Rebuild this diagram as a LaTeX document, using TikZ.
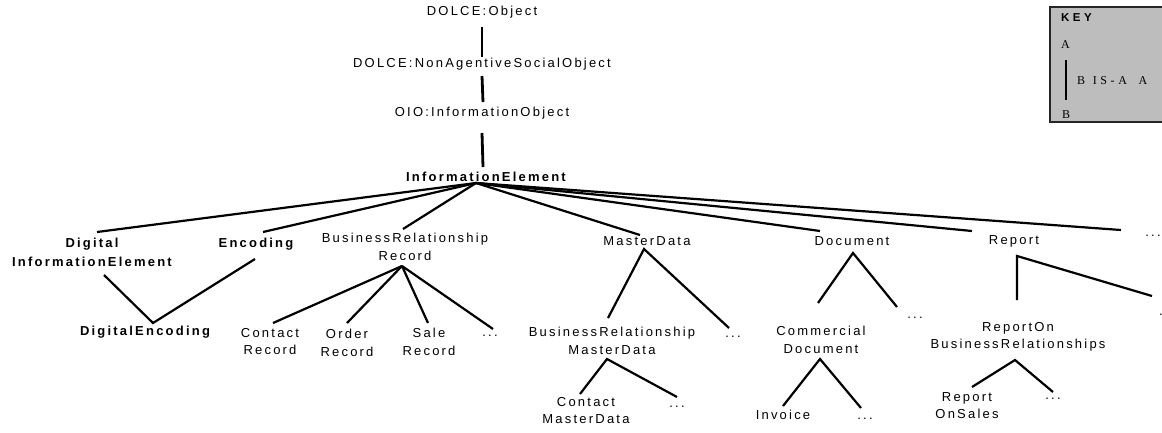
\documentclass[tikz,border=0pt]{standalone}
\usepackage{fontspec}
\setmainfont{Liberation Sans}[LetterSpace=17]
\newfontfamily\keyserif{Liberation Serif}[LetterSpace=30]
\definecolor{keyfill}{gray}{0.74}
\begin{document}
\begin{tikzpicture}[x=1pt,y=-1pt,
  lbl/.style={font=\fontsize{13}{17.5}\selectfont, inner sep=0pt, anchor=north, align=center},
  blbl/.style={font=\fontsize{13}{19}\selectfont\bfseries, inner sep=0pt, anchor=north, align=center},
  more/.style={font=\fontsize{13}{14}\selectfont, inner sep=0pt, anchor=base},
  isa/.style={line width=2.2pt, line cap=butt, line join=miter},
  keytxt/.style={font=\keyserif\fontsize{12}{13}\selectfont, inner sep=0pt, anchor=base}]
\useasboundingbox (0,0) rectangle (1162,432);

% ---------- upper chain ----------
\node[lbl]  (obj)  at (482,6)   {DOLCE:Object};
\node[lbl]  (naso) at (482,58)  {DOLCE:NonAgentiveSocialObject};
\node[lbl]  (oio)  at (482,107) {OIO:InformationObject};
\node[blbl] (ie)   at (486,172) {InformationElement};

\coordinate (obj-b)  at (482,27);  \coordinate (naso-t) at (482,57);
\coordinate (naso-b) at (482,76);  \coordinate (oio-t)  at (483,102);
\coordinate (oio-b)  at (482,133); \coordinate (ie-t)   at (483,167);
\coordinate (ie-b)   at (476,183);
\draw[isa, line width=2.8pt] (obj-b) -- (naso-t);
\draw[isa, line width=2.8pt] (naso-b) -- (oio-t);
\draw[isa, line width=2.8pt] (oio-b) -- (ie-t);

% ---------- second level ----------
\node[blbl] (die)  at (92,238)  {Digital\\InformationElement};
\node[blbl] (enc)  at (256,238) {Encoding};
\node[lbl]  (brr)  at (405,233) {BusinessRelationship\\Record};
\node[lbl]  (md)   at (647,236) {MasterData};
\node[lbl]  (doc)  at (852,236) {Document};
\node[lbl]  (rep)  at (1014,235) {Report};
\node[more] (iem)  at (1153,236) {...};

\coordinate (die-t) at (97,232);
\coordinate (enc-t) at (263,232);
\coordinate (brr-t) at (403,229);
\coordinate (md-t)  at (640,235);
\coordinate (doc-t) at (820,231);
\coordinate (rep-t) at (972,231);
\coordinate (iem-t) at (1121,230);
\foreach \c in {die-t,enc-t,brr-t,md-t,doc-t,rep-t,iem-t}
  \draw[isa] (ie-b) -- (\c);

% ---------- DigitalEncoding ----------
\node[blbl] (de) at (145,326) {DigitalEncoding};
\coordinate (die-b) at (104,275);
\coordinate (enc-b) at (255,259);
\coordinate (de-t)  at (153,323);
\draw[isa] (die-b) -- (de-t) -- (enc-b);

% ---------- BusinessRelationship Record ----------
\node[lbl]  (cr)   at (270,328) {Contact\\Record};
\node[lbl]  (or)   at (347,329) {Order\\Record};
\node[lbl]  (sr)   at (429,328) {Sale\\Record};
\node[more] (brrm) at (490,336) {...};
\coordinate (brr-b)  at (402,266);
\coordinate (cr-t)   at (273,323);
\coordinate (or-t)   at (347,323);
\coordinate (sr-t)   at (428,323);
\coordinate (brrm-t) at (493,329);
\foreach \c in {cr-t,or-t,sr-t,brrm-t}
  \draw[isa] (brr-b) -- (\c);

% ---------- MasterData ----------
\node[lbl]  (brmd)  at (612,327) {BusinessRelationship\\MasterData};
\node[more] (mdm)   at (733,337) {...};
\node[lbl]  (cmd)   at (586,397) {Contact\\MasterData};
\node[more] (brmdm) at (677,407) {...};
\coordinate (md-b)    at (644,249);
\coordinate (brmd-t)  at (608,318);
\coordinate (mdm-t)   at (729,328);
\coordinate (brmd-b)  at (607,359);
\coordinate (cmd-t)   at (580,394);
\coordinate (brmdm-t) at (677,397);
\draw[isa] (brmd-t) -- (md-b) -- (mdm-t);
\draw[isa] (cmd-t) -- (brmd-b) -- (brmdm-t);

% ---------- Document ----------
\node[lbl]  (cd)   at (821,326) {Commercial\\Document};
\node[more] (docm) at (915,318) {...};
\node[lbl]  (inv)  at (783,410) {Invoice};
\node[more] (cdm)  at (865,419) {...};
\coordinate (doc-b)  at (853,253);
\coordinate (cd-t)   at (818,303);
\coordinate (docm-t) at (897,307);
\coordinate (cd-b)   at (820,359);
\coordinate (inv-t)  at (783,406);
\coordinate (cdm-t)  at (861,408);
\draw[isa] (cd-t) -- (doc-b) -- (docm-t);
\draw[isa] (inv-t) -- (cd-b) -- (cdm-t);

% ---------- Report ----------
\node[lbl]  (robr)  at (1018,322) {ReportOn\\BusinessRelationships};
\node[more, anchor=base west] (repm) at (1159,315) {...};
\node[lbl]  (ros)   at (967,392) {Report\\OnSales};
\node[more] (robrm) at (1053,399) {...};
\coordinate (rep-b)   at (1017,256);
\coordinate (robr-t)  at (1017,300);
\coordinate (repm-t)  at (1152,296);
\coordinate (robr-b)  at (1015,360);
\coordinate (ros-t)   at (972,387);
\coordinate (robrm-t) at (1053,392);
\draw[isa] (robr-t) -- (rep-b) -- (repm-t);
\draw[isa] (ros-t) -- (robr-b) -- (robrm-t);

% ---------- key ----------
\draw[fill=keyfill, draw=black!85, line width=1.6pt] (1050,7) rectangle (1180,122);
\node[inner sep=0pt, anchor=base west, font=\fontsize{11.5}{13}\selectfont\bfseries\addfontfeature{LetterSpace=30}] (keyt) at (1061,21) {KEY};
\node[keytxt] (ka) at (1065.5,48) {A};
\node[keytxt] (kb) at (1066,118) {B};
\node[keytxt, anchor=base west] (kr) at (1077,84) {B\hspace{1pt} IS-A\hspace{5pt} A};
\coordinate (ka-b) at (1066,60);
\coordinate (kb-t) at (1066,100);
\draw[isa, line width=2.4pt] (ka-b) -- (kb-t);
\end{tikzpicture}
\end{document}
